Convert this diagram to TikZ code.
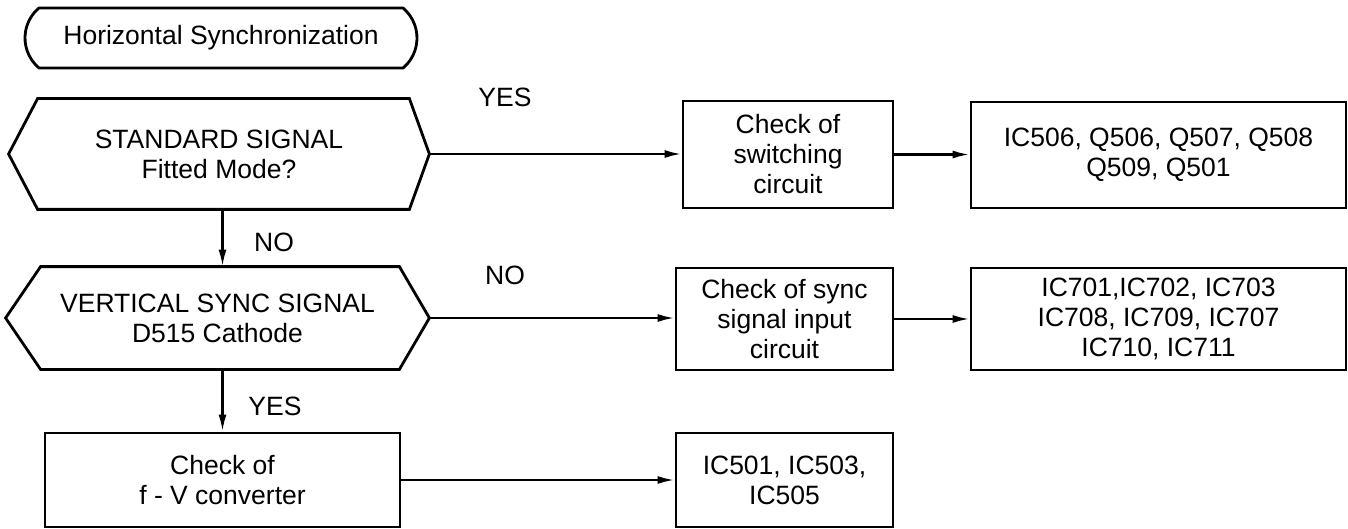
\documentclass[tikz,border=0pt]{standalone}
\usepackage{fontspec}
\setmainfont{Liberation Sans}
\usetikzlibrary{shapes.misc,arrows.meta}
\begin{document}
\begin{tikzpicture}[x=1pt,y=-1pt,
  font=\fontsize{26.5}{30}\selectfont,
  line width=2.8pt,
  box/.style={draw, rectangle, align=center, inner sep=0pt},
  hexnode/.style={rectangle, align=center, inner sep=0pt},
  arr/.style={-{Latex[length=17pt,width=8pt]}, line width=2.4pt},
  lbl/.style={inner sep=0pt}]
\useasboundingbox (0,0) rectangle (1348,529);

\node[draw, rounded rectangle, rounded rectangle arc length=100, minimum width=392pt, minimum height=60pt, inner sep=0pt] (start) at (221,38) {Horizontal Synchronization};

\node[hexnode, minimum width=418pt, minimum height=108pt] (d1) at (219,154) {STANDARD SIGNAL\\Fitted Mode?};
\draw (d1.west) -- ([xshift=29pt]d1.north west) -- ([xshift=-20pt]d1.north east) -- (d1.east) -- ([xshift=-20pt]d1.south east) -- ([xshift=29pt]d1.south west) -- cycle;

\node[hexnode, minimum width=421pt, minimum height=100pt] (d2) at (217.5,318) {VERTICAL SYNC SIGNAL\\D515 Cathode};
\draw (d2.west) -- ([xshift=35pt]d2.north west) -- ([xshift=-30pt]d2.north east) -- (d2.east) -- ([xshift=-30pt]d2.south east) -- ([xshift=35pt]d2.south west) -- cycle;

\node[box, minimum width=355pt, minimum height=94pt] (fv) at (222.5,480) {Check of\\f - V converter};
\node[box, minimum width=210pt, minimum height=107pt] (sw) at (788,154.5) {Check of\\switching\\circuit};
\node[box, minimum width=375pt, minimum height=106pt] (q) at (1158.5,155) {IC506, Q506, Q507, Q508\\Q509, Q501};
\node[box, minimum width=217pt, minimum height=102pt] (si) at (784.5,319) {Check of sync\\signal input\\circuit};
\node[box, minimum width=375pt, minimum height=102pt] (ic7) at (1158.5,319) {IC701,IC702, IC703\\IC708, IC709, IC707\\IC710, IC711};
\node[box, minimum width=217pt, minimum height=94pt] (ic5) at (784.5,480) {IC501, IC503,\\IC505};

\draw[arr] (d1.east) -- (sw.west |- d1.east);
\draw[arr] (sw.east) -- (q.west |- sw.east);
\draw[arr] (d2.east) -- (si.west |- d2.east);
\draw[arr] (si.east) -- (ic7.west |- si.east);
\draw[arr] (fv.north |- d1.south) -- (fv.north |- d2.north);
\draw[arr] (fv.north |- d2.south) -- (fv.north);
\draw[arr] (fv.east) -- (ic5.west);

\node[lbl] (yes1) at (505,97) {YES};
\node[lbl] (no1) at (274,242) {NO};
\node[lbl] (no2) at (505,275) {NO};
\node[lbl] (yes2) at (275,406) {YES};
\end{tikzpicture}
\end{document}
